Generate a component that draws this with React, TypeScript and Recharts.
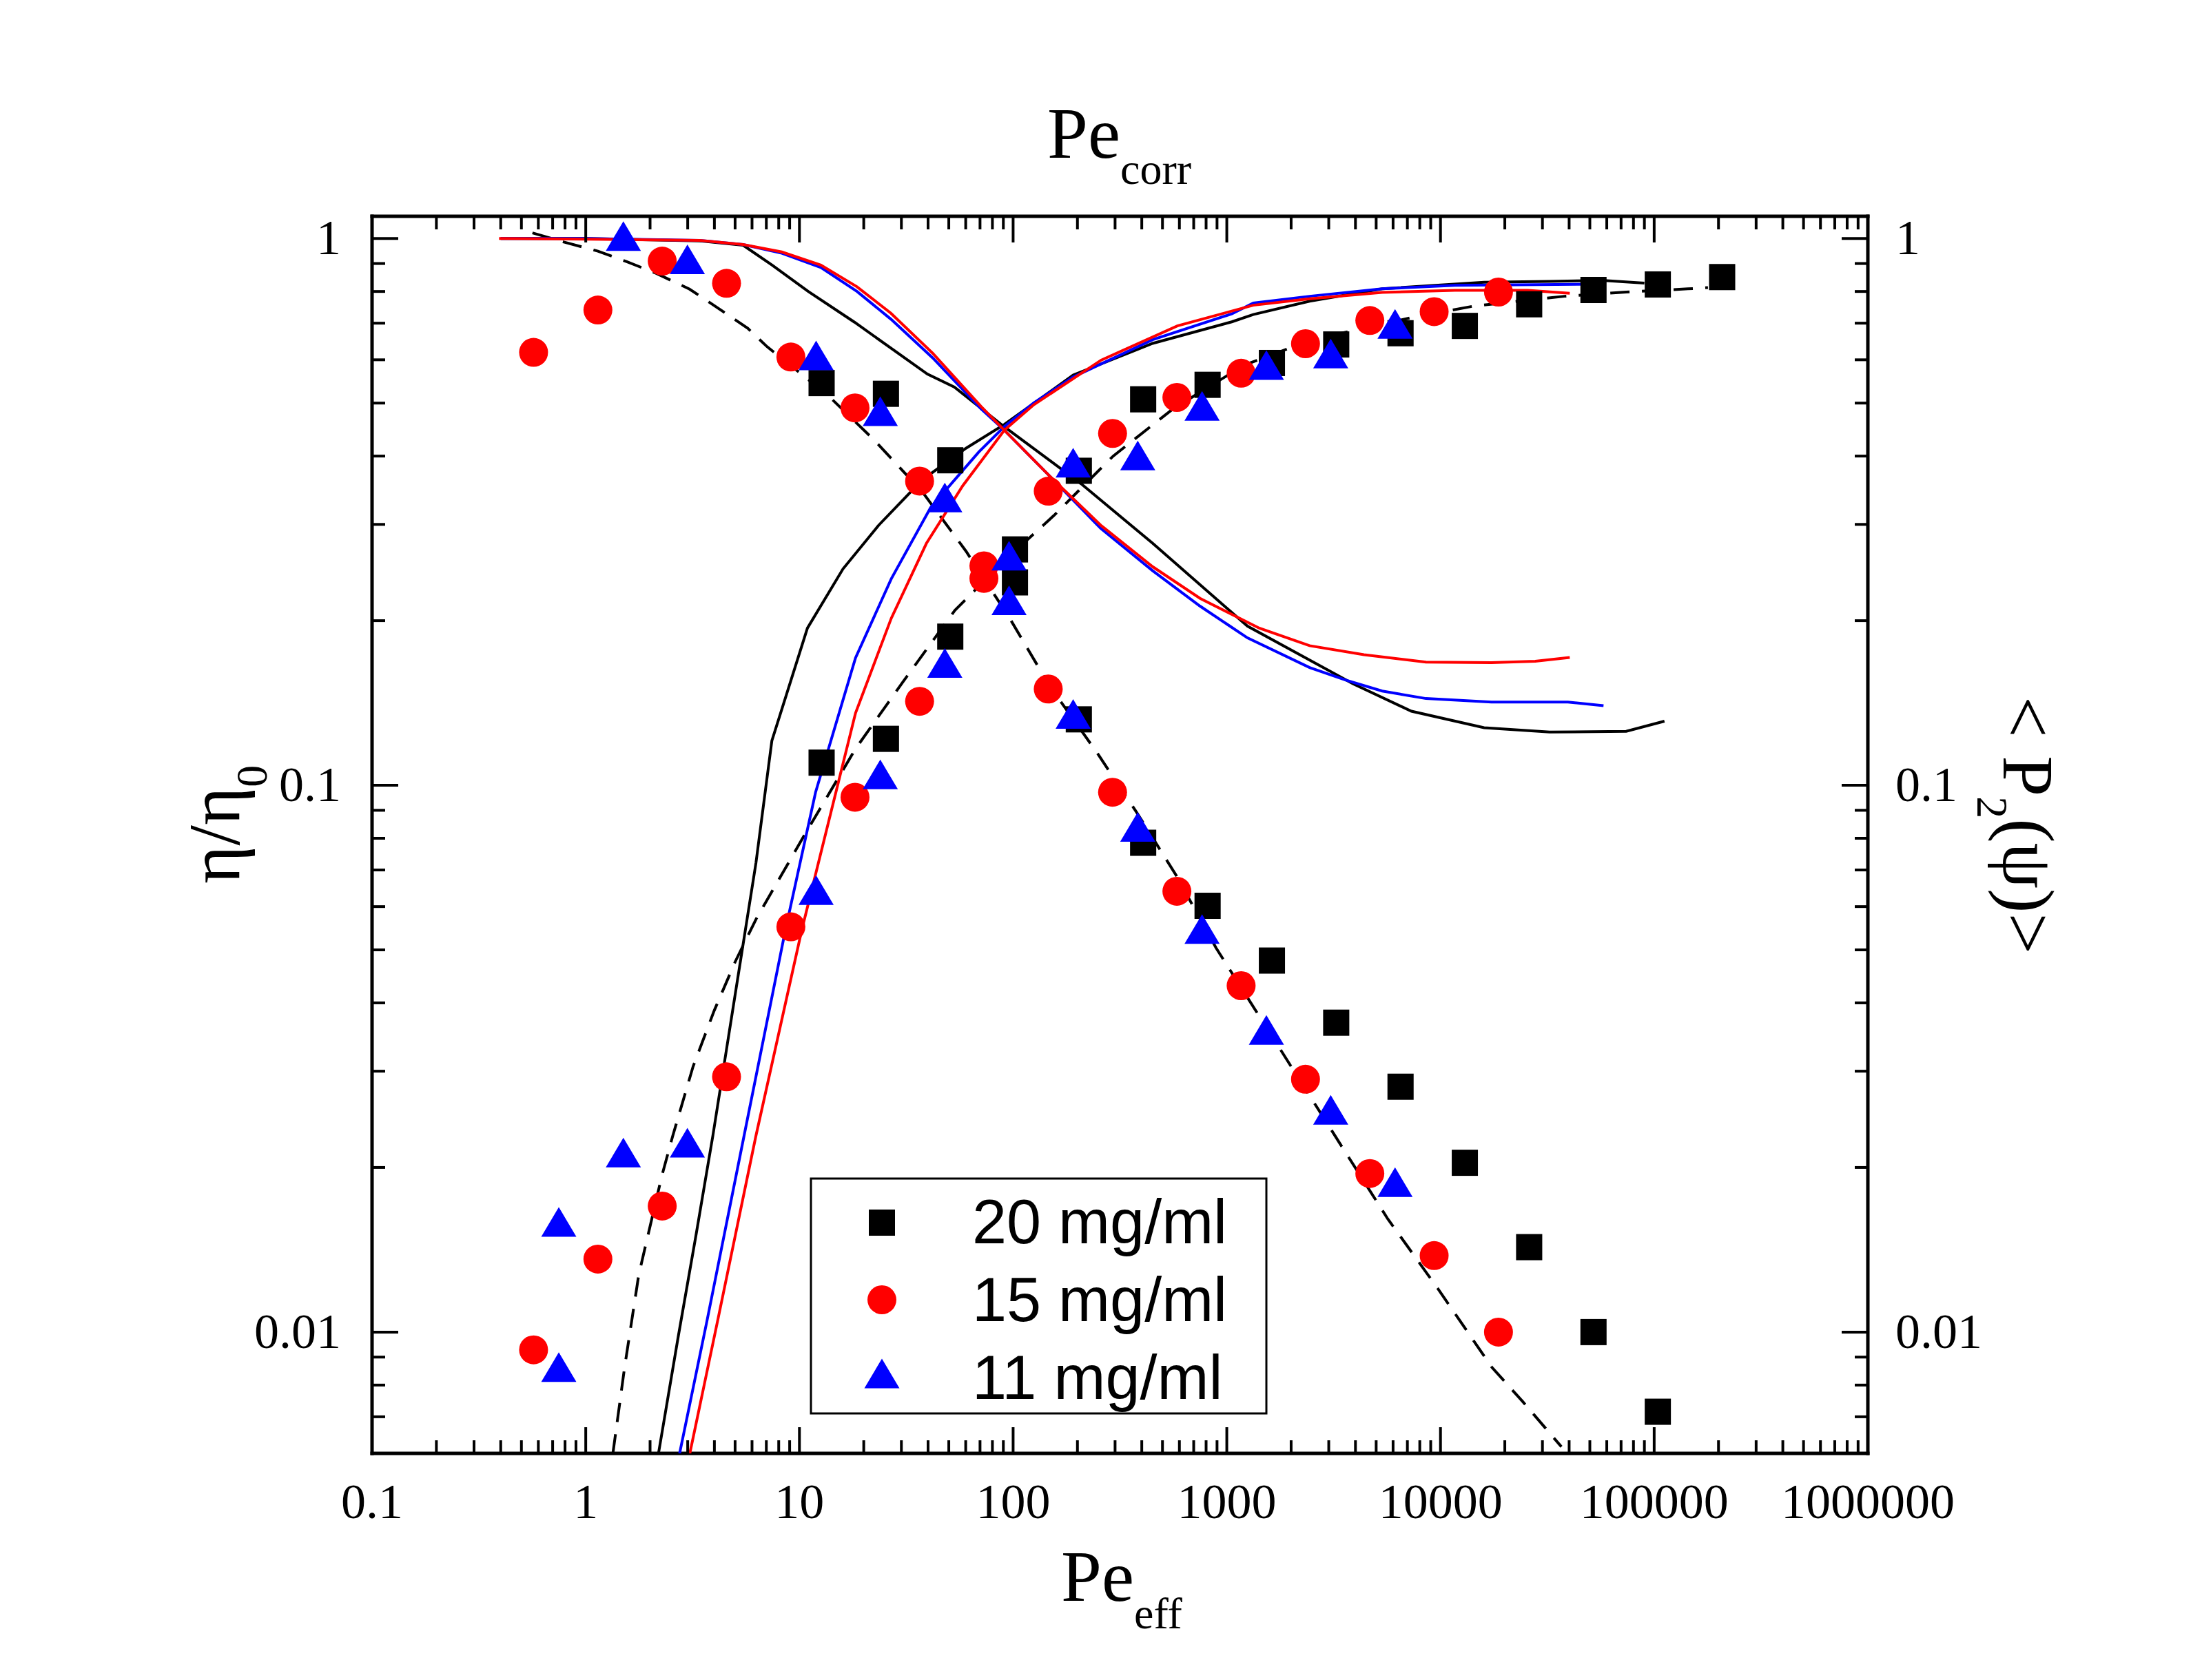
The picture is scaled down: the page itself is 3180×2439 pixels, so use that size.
import React from 'react';
import { ComposedChart, Scatter, XAxis, YAxis } from 'recharts';

// ---- axes ----
const xMajorTicks = [0.1, 1, 10, 100, 1000, 10000, 100000, 1000000];
const xTickLabels = ['0.1', '1', '10', '100', '1000', '10000', '100000', '1000000'];
const yMajorTicks = [0.01, 0.1, 1];
const yTickLabels = ['0.01', '0.1', '1'];
const minorSteps = [2, 3, 4, 5, 6, 7, 8, 9];
const xDomain = [0.1, 1000000];
const yDomain = [0.006, 1.098];

// ---- 20 mg/ml (black squares) ----
const blackX = [12.7, 25.4, 50.8, 102, 203, 406, 813, 1626, 3251, 6502, 13000, 26000, 52000, 104000, 208000];
const blackEta = [0.544, 0.52, 0.393, 0.235, 0.132, 0.0785, 0.0602, 0.0478, 0.0368, 0.0281, 0.0204, 0.0143, 0.01, 0.00715];
const blackP2 = [0.11, 0.1216, 0.187, 0.27, 0.376, 0.508, 0.54, 0.592, 0.64, 0.671, 0.692, 0.758, 0.805, 0.824, 0.85];

// ---- 15 mg/ml (red circles) ----
const redX = [0.57, 1.14, 2.28, 4.56, 9.12, 18.2, 36.5, 73, 146, 292, 584, 1167, 2335, 4670, 9340, 18680];
const redEta = [0.619, 0.74, 0.909, 0.828, 0.607, 0.49, 0.36, 0.239, 0.15, 0.0971, 0.064, 0.043, 0.029, 0.0195, 0.0138, 0.01];
const redP2 = [0.00928, 0.0136, 0.017, 0.0293, 0.0551, 0.0951, 0.1424, 0.252, 0.345, 0.44, 0.512, 0.567, 0.642, 0.708, 0.735, 0.798];

// ---- 11 mg/ml (blue triangles) ----
const blueEtaX = [1.5, 2.99, 11.97, 23.9, 47.9, 95.7, 191, 383, 766, 1532, 3064, 6128];
const blueEta = [1.01, 0.916, 0.611, 0.483, 0.336, 0.218, 0.135, 0.0839, 0.0546, 0.0357, 0.0255, 0.0188];
const blueP2X = [0.748, 0.748, 1.5, 2.99, 11.97, 23.9, 47.9, 95.7, 191, 383, 766, 1532, 3064, 6128];
const blueP2 = [0.0159, 0.00863, 0.0213, 0.0222, 0.0643, 0.1047, 0.1674, 0.263, 0.389, 0.401, 0.494, 0.587, 0.616, 0.698];

// ---- model curves ----
const dashEtaX = [0.563, 0.79, 1.14, 1.556, 2.13, 3.06, 4.42, 5.73, 7.06, 13.5, 22.5, 37.6, 60.2, 96.4, 148, 247, 378, 580, 891, 3499, 5670, 9750, 17400, 24270, 36800];
const dashEtaY = [1.024, 0.985, 0.948, 0.907, 0.864, 0.808, 0.734, 0.685, 0.634, 0.518, 0.427, 0.344, 0.268, 0.202, 0.152, 0.1147, 0.0893, 0.0684, 0.0504, 0.02167, 0.0161, 0.01199, 0.00862, 0.00746, 0.00617];
const dashP2X = [1.34, 1.52, 1.77, 2.27, 2.55, 3.18, 3.99, 5.01, 6.28, 10.5, 18.3, 30.6, 53.4, 88.7, 155, 294, 560, 1210, 2510, 7610, 14230, 37970, 73950, 143900, 178500];
const dashP2Y = [0.006, 0.00862, 0.01272, 0.0193, 0.0228, 0.0306, 0.0387, 0.0476, 0.057, 0.0808, 0.1166, 0.1548, 0.2089, 0.255, 0.3113, 0.4, 0.488, 0.587, 0.653, 0.719, 0.752, 0.784, 0.798, 0.809, 0.813];

const blackEtaLineX = [0.4, 1.0, 3.4, 5.45, 7.45, 11.0, 18.1, 39.7, 53.1, 90.6, 208, 450, 1250, 2440, 3900, 7310, 16000, 32430, 73950, 111700];
const blackEtaLineY = [1.0, 1.0, 0.99, 0.972, 0.894, 0.8, 0.703, 0.565, 0.535, 0.453, 0.356, 0.277, 0.1954, 0.1694, 0.1533, 0.1366, 0.1274, 0.1251, 0.1255, 0.131];
const blueEtaLineX = [0.4, 1.0, 3.4, 5.45, 8.27, 12.6, 18.6, 26.8, 42, 70.8, 91, 148, 257, 450, 750, 1250, 2440, 3607, 5336, 8550, 17320, 39450, 57940];
const blueEtaLineY = [1.0, 1.0, 0.992, 0.975, 0.94, 0.885, 0.8, 0.712, 0.605, 0.488, 0.446, 0.368, 0.295, 0.2468, 0.2126, 0.186, 0.1642, 0.1557, 0.1487, 0.1441, 0.142, 0.142, 0.1398];
const redEtaLineX = [0.393, 1.026, 3.4, 5.45, 8.27, 12.6, 18.6, 26.8, 42, 70.8, 91, 148, 257, 450, 750, 1420, 2440, 4385, 8550, 17320, 27750, 40270];
const redEtaLineY = [1.0, 0.997, 0.992, 0.975, 0.945, 0.894, 0.816, 0.73, 0.617, 0.493, 0.446, 0.368, 0.299, 0.251, 0.2197, 0.1938, 0.18, 0.1733, 0.168, 0.1676, 0.1686, 0.1713];

const blackP2LineX = [2.19, 2.72, 3.28, 3.93, 6.26, 7.43, 10.9, 16.0, 23.5, 37.6, 60.2, 91, 191, 450, 1055, 1330, 2440, 5336, 16000, 32430, 58480, 89950];
const blackP2LineY = [0.006, 0.0099, 0.01503, 0.0228, 0.0721, 0.1206, 0.1938, 0.2488, 0.299, 0.362, 0.4135, 0.457, 0.5627, 0.643, 0.704, 0.726, 0.768, 0.809, 0.832, 0.835, 0.838, 0.829];
const blueP2LineX = [2.75, 3.69, 5.5, 8.6, 11.9, 18.3, 26.9, 41.1, 69, 91, 125, 191, 450, 1055, 1330, 2440, 5336, 11700, 57940];
const blueP2LineY = [0.006, 0.01047, 0.0228, 0.0544, 0.0971, 0.171, 0.2385, 0.322, 0.4067, 0.453, 0.5005, 0.558, 0.653, 0.728, 0.762, 0.784, 0.809, 0.821, 0.825];
const redP2LineX = [3.07, 4.17, 6.25, 10.26, 18.3, 26.9, 39.3, 58.1, 91, 125, 258, 587, 1330, 2440, 5336, 11700, 25650, 40270];
const redP2LineY = [0.006, 0.01062, 0.0228, 0.0544, 0.1355, 0.202, 0.277, 0.353, 0.446, 0.4966, 0.599, 0.692, 0.755, 0.776, 0.797, 0.804, 0.804, 0.794];

const legendLabels = ['20 mg/ml', '15 mg/ml', '11 mg/ml'];

const SERIF = '"Liberation Serif", "Times New Roman", serif';
const SANS = '"Liberation Sans", Arial, sans-serif';
const RED = '#ff0000';
const BLUE = '#0000ff';
const MAJOR = 38;
const MINOR = 19;

const pts = (xs: number[], ys: number[]) => ys.map((y, i) => ({ x: xs[i], y }));

const xTicks = [...xMajorTicks, ...xMajorTicks.slice(0, -1).flatMap((d) => minorSteps.map((m) => d * m))];
const yTicks = [...yMajorTicks, ...[0.001, 0.01, 0.1].flatMap((d) => minorSteps.map((m) => d * m)).filter((v) => v > 0.0061)];

const isMajor = (v: number) => Math.abs(Math.log10(v) - Math.round(Math.log10(v))) < 1e-9;
const labelFor = (v: number, majors: number[], labels: string[]) => {
  const i = majors.findIndex((m) => Math.abs(m - v) / m < 1e-9);
  return i >= 0 ? labels[i] : null;
};

function BottomTick(props: any) {
  const { x, y, payload } = props;
  const label = labelFor(payload.value, xMajorTicks, xTickLabels);
  return (
    <g>
      <line x1={x} y1={y} x2={x} y2={y - (isMajor(payload.value) ? MAJOR : MINOR)} stroke="#000" strokeWidth={4} />
      {label && (
        <text x={x} y={y + 94} textAnchor="middle" fontFamily={SERIF} fontSize={72} fill="#000">{label}</text>
      )}
    </g>
  );
}

function TopTick(props: any) {
  const { x, y, payload } = props;
  return <line x1={x} y1={y} x2={x} y2={y + (isMajor(payload.value) ? MAJOR : MINOR)} stroke="#000" strokeWidth={4} />;
}

function LeftTick(props: any) {
  const { x, y, payload } = props;
  const label = labelFor(payload.value, yMajorTicks, yTickLabels);
  return (
    <g>
      <line x1={x} y1={y} x2={x + (isMajor(payload.value) ? MAJOR : MINOR)} y2={y} stroke="#000" strokeWidth={4} />
      {label && (
        <text x={x - 45} y={y + 23} textAnchor="end" fontFamily={SERIF} fontSize={72} fill="#000">{label}</text>
      )}
    </g>
  );
}

function RightTick(props: any) {
  const { x, y, payload } = props;
  const label = labelFor(payload.value, yMajorTicks, yTickLabels);
  return (
    <g>
      <line x1={x} y1={y} x2={x - (isMajor(payload.value) ? MAJOR : MINOR)} y2={y} stroke="#000" strokeWidth={4} />
      {label && (
        <text x={x + 40} y={y + 23} textAnchor="start" fontFamily={SERIF} fontSize={72} fill="#000">{label}</text>
      )}
    </g>
  );
}

const squareShape = (p: any) => <rect x={p.cx - 19} y={p.cy - 19} width={38} height={38} fill="#000" />;
const circleShape = (p: any) => <circle cx={p.cx} cy={p.cy} r={21} fill={RED} />;
const triangleShape = (p: any) => (
  <polygon points={`${p.cx},${p.cy - 21.5} ${p.cx + 25.5},${p.cy + 21.5} ${p.cx - 25.5},${p.cy + 21.5}`} fill={BLUE} />
);
const noDot = () => <g />;

const axisLine = { stroke: '#000', strokeWidth: 5, strokeLinecap: 'square' as const };

export default function App() {
  const curve = (xs: number[], ys: number[], stroke: string, dashed = false) => (
    <Scatter
      xAxisId="b"
      yAxisId="l"
      data={pts(xs, ys)}
      line={{ stroke, strokeWidth: 4, strokeDasharray: dashed ? '28 18' : undefined }}
      lineType="joint"
      shape={noDot}
      isAnimationActive={false}
    />
  );

  return (
    <div style={{ position: 'absolute', left: 0, top: 0, width: 3180, height: 2439, background: '#fff' }}>
      <ComposedChart width={3180} height={2439} margin={{ top: 214, right: 269, bottom: 179, left: 340 }}>
        <XAxis xAxisId="b" dataKey="x" type="number" scale="log" domain={xDomain} allowDataOverflow ticks={xTicks}
          interval={0} tickSize={0} tickMargin={0} tick={BottomTick} axisLine={axisLine} height={150} />
        <XAxis xAxisId="t" orientation="top" dataKey="x" type="number" scale="log" domain={xDomain} allowDataOverflow
          ticks={xTicks} interval={0} tickSize={0} tickMargin={0} tick={TopTick} axisLine={axisLine} height={100} />
        <YAxis yAxisId="l" dataKey="y" type="number" scale="log" domain={yDomain} allowDataOverflow ticks={yTicks}
          interval={0} tickSize={0} tickMargin={0} tick={LeftTick} axisLine={axisLine} width={200} />
        <YAxis yAxisId="r" orientation="right" dataKey="y" type="number" scale="log" domain={yDomain} allowDataOverflow
          ticks={yTicks} interval={0} tickSize={0} tickMargin={0} tick={RightTick} axisLine={axisLine} width={200} />

        {curve(dashEtaX, dashEtaY, '#000', true)}
        {curve(dashP2X, dashP2Y, '#000', true)}
        {curve(blackEtaLineX, blackEtaLineY, '#000')}
        {curve(blackP2LineX, blackP2LineY, '#000')}
        {curve(blueEtaLineX, blueEtaLineY, BLUE)}
        {curve(blueP2LineX, blueP2LineY, BLUE)}
        {curve(redEtaLineX, redEtaLineY, RED)}
        {curve(redP2LineX, redP2LineY, RED)}

        <Scatter xAxisId="b" yAxisId="l" data={pts(blackX, blackEta)} shape={squareShape} isAnimationActive={false} />
        <Scatter xAxisId="b" yAxisId="l" data={pts(blackX, blackP2)} shape={squareShape} isAnimationActive={false} />
        <Scatter xAxisId="b" yAxisId="l" data={pts(redX, redEta)} shape={circleShape} isAnimationActive={false} />
        <Scatter xAxisId="b" yAxisId="l" data={pts(redX, redP2)} shape={circleShape} isAnimationActive={false} />
        <Scatter xAxisId="b" yAxisId="l" data={pts(blueEtaX, blueEta)} shape={triangleShape} isAnimationActive={false} />
        <Scatter xAxisId="b" yAxisId="l" data={pts(blueP2X, blueP2)} shape={triangleShape} isAnimationActive={false} />
      </ComposedChart>

      {/* titles and legend */}
      <svg width={3180} height={2439} style={{ position: 'absolute', left: 0, top: 0, pointerEvents: 'none' }}>
        <text x={1520} y={229} fontFamily={SERIF} fontSize={106} fill="#000">
          Pe<tspan dy={38} fontSize={64}>corr</tspan>
        </text>
        <text x={1540} y={2324} fontFamily={SERIF} fontSize={106} fill="#000">
          Pe<tspan dy={40} fontSize={64}>eff</tspan>
        </text>
        <text transform="translate(347,1283) rotate(-90)" fontFamily={SERIF} fontSize={106} fill="#000">
          η/η<tspan dy={40} fontSize={64}>0</tspan>
        </text>
        <text transform="translate(2908,1011) rotate(90)" fontFamily={SERIF} fontSize={106} fill="#000">
          {'< P'}<tspan dy={38} fontSize={64}>2</tspan><tspan dy={-38} fontSize={106}>(ψ)&gt;</tspan>
        </text>

        <rect x={1177} y={1711} width={661} height={341} fill="#fff" stroke="#000" strokeWidth={3} />
        <rect x={1261} y={1756} width={38} height={38} fill="#000" />
        <circle cx={1280} cy={1887} r={21} fill={RED} />
        <polygon points="1280,1972.5 1305.5,2015.5 1254.5,2015.5" fill={BLUE} />
        {legendLabels.map((t, i) => (
          <text key={t} x={1411} y={1805 + i * 113} fontFamily={SANS} fontSize={90} fill="#000">{t}</text>
        ))}
      </svg>
    </div>
  );
}
